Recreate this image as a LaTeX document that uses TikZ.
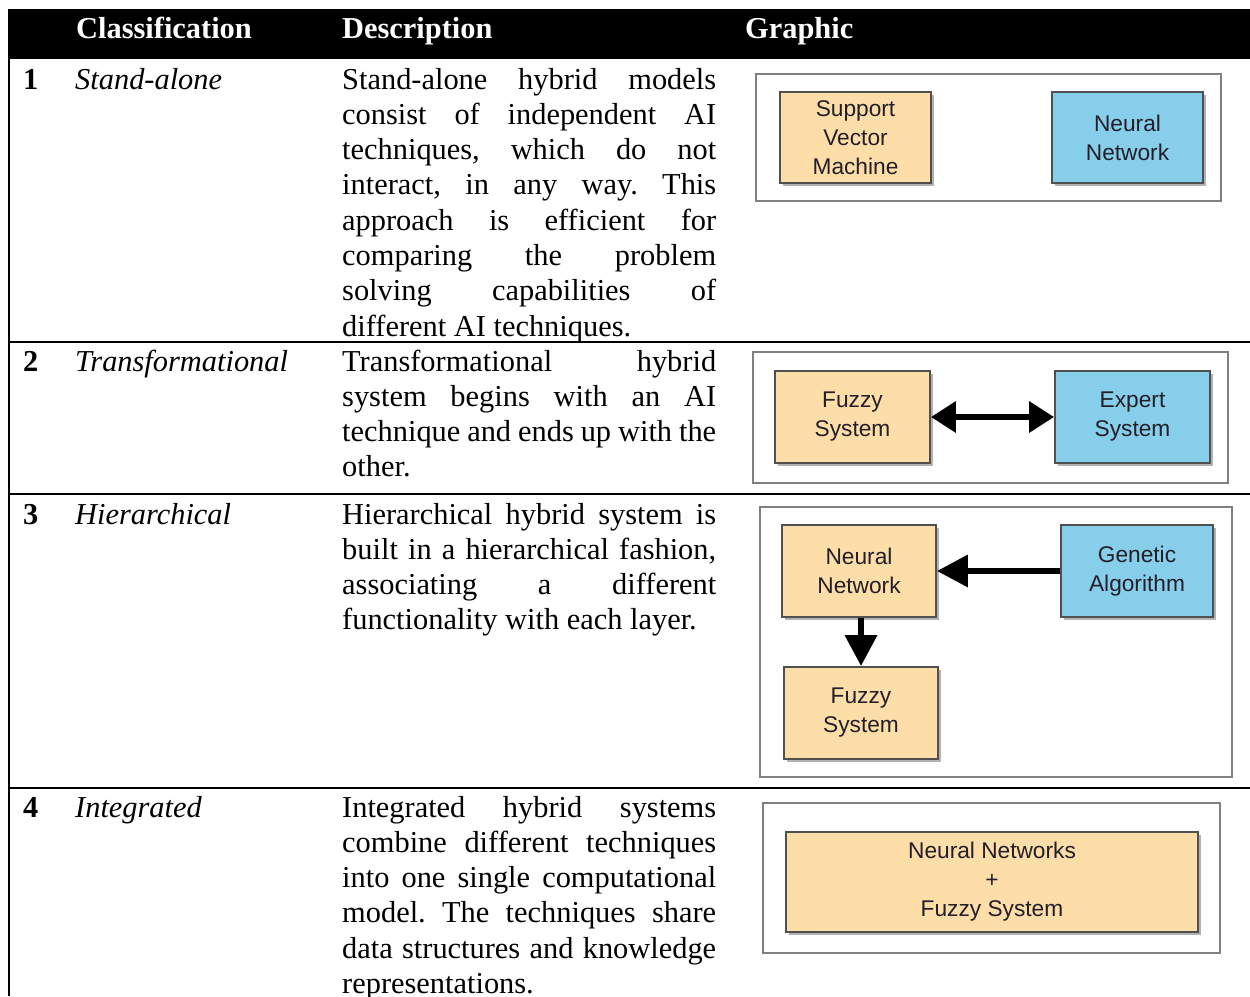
\documentclass[tikz,border=0pt]{standalone}
\usepackage{fontspec}
\setmainfont{Liberation Serif}
\newfontfamily\boxfont{Liberation Sans}
\usetikzlibrary{arrows.meta,shadows}
\definecolor{peach}{RGB}{253,221,168}
\definecolor{skyb}{RGB}{135,206,235}
\definecolor{framegray}{RGB}{128,128,128}
\definecolor{boxline}{RGB}{80,80,80}
\definecolor{boxtext}{RGB}{35,30,40}
\newcommand\jl[1]{\hbox to 374pt{\frenchspacing\spaceskip=0.25em plus 1fil minus 0.1em\xspaceskip=\spaceskip\relax #1}}
\newcommand\nl[1]{\hbox{\frenchspacing #1}}
\begin{document}
\begin{tikzpicture}[x=1pt,y=-1pt,
  rule/.style={line width=2pt},
  hdr/.style={text=white,font=\bfseries\fontsize{30.4}{35.3}\selectfont,anchor=base west,inner sep=0},
  num/.style={font=\bfseries\fontsize{30.4}{35.3}\selectfont,anchor=base west,inner sep=0},
  cls/.style={font=\itshape\fontsize{30.4}{35.3}\selectfont,anchor=base west,inner sep=0},
  desc/.style={font=\fontsize{30.4}{35.3}\selectfont,anchor=base west,inner sep=0},
  gframe/.style={draw=framegray,line width=2pt,fill=white},
  tbox/.style={draw=boxline,line width=1.8pt,text=boxtext,font=\boxfont\fontsize{22.7}{29}\selectfont,align=center,inner sep=0,
    drop shadow={shadow xshift=2.5pt,shadow yshift=-2.5pt,opacity=0.3,fill=black}},
  obox/.style={tbox,fill=peach},
  bbox/.style={tbox,fill=skyb},
  fatarrow/.style={line width=6.5pt},
]
\useasboundingbox (0,0) rectangle (1250,996);
% table
\fill[black] (8,9) rectangle (1250,59);
\draw[rule] (8.5,9) -- (8.5,996);
\draw[rule] (8,342) -- (1250,342);
\draw[rule] (8,494) -- (1250,494);
\draw[rule] (8,788) -- (1250,788);
\node[hdr] (hcls) at (76,38) {Classification};
\node[hdr] (hdesc) at (342,38) {Description};
\node[hdr] (hgra) at (745,38) {Graphic};
% row 1
\node[num] (n1) at (23,89) {1};
\node[cls] (c1) at (75,89) {Stand-alone};
\node[desc] (d1) at (342,89) {\parbox[t]{374pt}{%
\jl{Stand-alone hybrid models}
\jl{consist of independent AI}
\jl{techniques, which do not}
\jl{interact, in any way. This}
\jl{approach is efficient for}
\jl{comparing the problem}
\jl{solving capabilities of}
\nl{different AI techniques.}}};
% row 2
\node[num] (n2) at (23,371) {2};
\node[cls] (c2) at (75,371) {Transformational};
\node[desc] (d2) at (342,371) {\parbox[t]{374pt}{%
\jl{Transformational hybrid}
\jl{system begins with an AI}
\jl{technique and ends up with the}
\nl{other.}}};
% row 3
\node[num] (n3) at (23,524) {3};
\node[cls] (c3) at (75,524) {Hierarchical};
\node[desc] (d3) at (342,524) {\parbox[t]{374pt}{%
\jl{Hierarchical hybrid system is}
\jl{built in a hierarchical fashion,}
\jl{associating a different}
\nl{functionality with each layer.}}};
% row 4
\node[num] (n4) at (23,817) {4};
\node[cls] (c4) at (75,817) {Integrated};
\node[desc] (d4) at (342,817) {\parbox[t]{374pt}{%
\jl{Integrated hybrid systems}
\jl{combine different techniques}
\jl{into one single computational}
\jl{model. The techniques share}
\jl{data structures and knowledge}
\nl{representations.}}};
% graphic 1
\draw[gframe] (756,74) rectangle (1221,201);
\node[obox,minimum width=151pt,minimum height=91pt] (svm) at (855.5,137.5) {Support\\Vector\\Machine};
\node[bbox,minimum width=151pt,minimum height=91pt] (nn1) at (1127.5,137.5) {Neural\\Network};
% graphic 2
\draw[gframe] (753,352) rectangle (1228,483);
\node[obox,minimum width=155pt,minimum height=92pt] (fz2) at (852.5,417) {Fuzzy\\System};
\node[bbox,minimum width=155pt,minimum height=92pt] (ex2) at (1132.5,417) {Expert\\System};
\draw[fatarrow,{Triangle[length=25pt,width=30pt]}-{Triangle[length=25pt,width=30pt]}] (fz2.east) -- (ex2.west);
% graphic 3
\draw[gframe] (760,507) rectangle (1232,777);
\node[obox,minimum width=154pt,minimum height=92pt] (nn3) at (859,571) {Neural\\Network};
\node[bbox,minimum width=152pt,minimum height=92pt] (ga3) at (1137,571) {Genetic\\Algorithm};
\node[obox,minimum width=154pt,minimum height=92pt] (fz3) at (861,713) {Fuzzy\\System};
\draw[fatarrow,-{Triangle[length=31pt,width=31pt]}] (ga3.west) -- (nn3.east);
\draw[fatarrow,-{Triangle[length=31pt,width=31pt]}] (fz3.north |- nn3.south) -- (fz3.north);
% graphic 4
\draw[gframe] (763,803) rectangle (1220,953);
\node[obox,minimum width=412pt,minimum height=100pt] (nnfz) at (992,882) {Neural Networks\\+\\Fuzzy System};
\end{tikzpicture}
\end{document}
